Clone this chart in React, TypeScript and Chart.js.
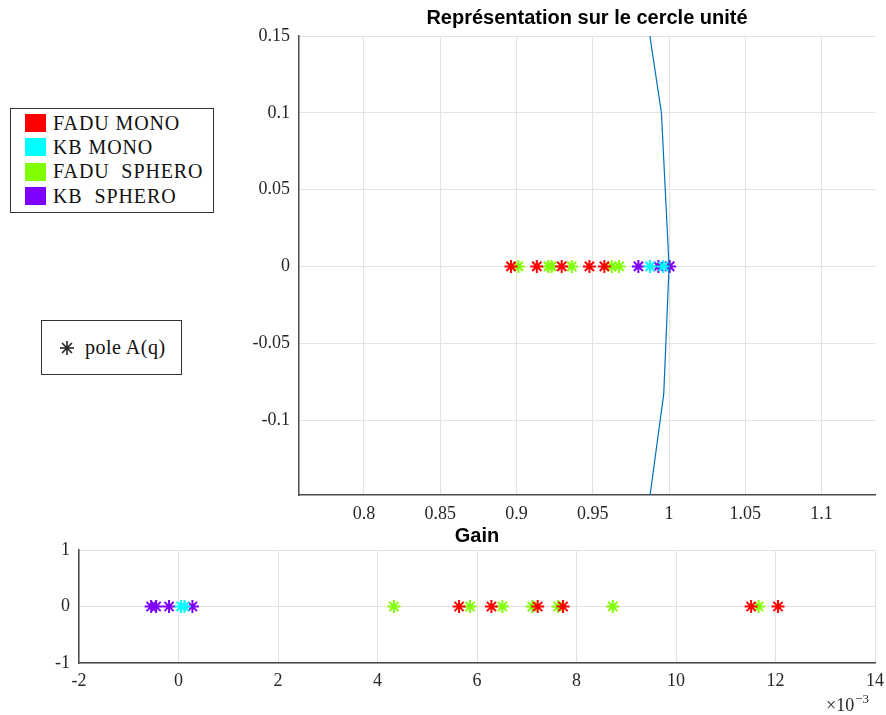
import React, { useEffect, useRef } from "react";
import { Chart, registerables } from "chart.js";
Chart.register(...registerables);

// ---------- data ----------
const seriesNames = ["FADU MONO", "KB MONO", "FADU  SPHERO", "KB  SPHERO"];
const seriesColors = ["#ff0000", "#00ffff", "#80ff00", "#8000ff"];

// poles on the real axis (unit circle view)
const faduMonoPoles = [0.8964, 0.9133, 0.9296, 0.9478, 0.9576];
const kbMonoPoles = [0.9875, 0.9962];
const faduSpheroPoles = [0.9012, 0.9209, 0.923, 0.9362, 0.9624, 0.9672];
const kbSpheroPoles = [0.9799, 0.993, 1.0004];

// unit circle polyline (visible part)
const circleX = [0.9801, 0.995, 1.0, 0.9965, 0.983];
const circleY = [0.1987, 0.0998, 0.0, -0.0831, -0.1822];

// gains (x 1e-3)
const faduMonoGain = [5.64, 6.29, 7.22, 7.73, 11.51, 12.05];
const kbMonoGain = [0.05, 0.12];
const faduSpheroGain = [4.33, 5.86, 6.51, 7.11, 7.63, 8.73, 11.66];
const kbSpheroGain = [-0.55, -0.45, -0.19, 0.28];

const topXTicks = [0.8, 0.85, 0.9, 0.95, 1, 1.05, 1.1];
const topYTicks = [-0.1, -0.05, 0, 0.05, 0.1, 0.15];
const gainXTicks = [-2, 0, 2, 4, 6, 8, 10, 12, 14];
const gainYTicks = [-1, 0, 1];

const topTitle = "Représentation sur le cercle unité";
const gainTitle = "Gain";
const poleLabel = "pole A(q)";

// ---------- styles ----------
const SERIF = "'Liberation Serif', 'DejaVu Serif', serif";
const SANS = "'Liberation Sans', Arial, sans-serif";
const GRID = "#e2e2e2";
const AXIS = "#4a4a4a";
const TICKTXT = "#262626";

const textPlugin = {
  id: "extraText",
  afterDraw(chart: any, _args: any, opts: any) {
    const ctx = chart.ctx;
    const area = chart.chartArea;
    ctx.save();
    ctx.fillStyle = "#000";
    ctx.font = "bold " + opts.titleSize + "px " + SANS;
    ctx.textAlign = "center";
    ctx.textBaseline = "alphabetic";
    ctx.fillText(opts.title, (area.left + area.right) / 2, area.top - opts.titleGap);
    if (opts.exp) {
      ctx.fillStyle = TICKTXT;
      ctx.textAlign = "left";
      ctx.font = "18px " + SERIF;
      const x = area.right - 49;
      const y = chart.height - 4;
      ctx.fillText("×10", x, y);
      const w = ctx.measureText("×10").width;
      ctx.font = "13px " + SERIF;
      ctx.fillText("−3", x + w + 1, y - 8);
    }
    ctx.restore();
  },
};

function fmt(v: number) {
  return String(+v.toFixed(3));
}

function axis(min: number, max: number, ticks: number[], fitSize: number, isX: boolean, pad: number) {
  return {
    type: "linear",
    min,
    max,
    afterBuildTicks: (s: any) => {
      s.ticks = ticks.map((v) => ({ value: v }));
    },
    afterFit: (s: any) => {
      if (isX) {
        s.height = fitSize;
        s.paddingLeft = 0;
        s.paddingRight = 0;
      } else {
        s.width = fitSize;
        s.paddingTop = 0;
        s.paddingBottom = 0;
      }
    },
    grid: { color: GRID, lineWidth: 1, drawTicks: false },
    border: { color: AXIS, width: 1.5 },
    ticks: {
      padding: pad,
      color: TICKTXT,
      font: { family: SERIF, size: 18 },
      callback: (v: any) => fmt(Number(v)),
      maxRotation: 0,
      autoSkip: false,
    },
  };
}

function scatterSet(xs: number[], color: string) {
  return {
    type: "scatter",
    data: xs.map((x) => ({ x, y: 0 })),
    pointStyle: "star",
    pointRadius: 6.5,
    pointBorderWidth: 2,
    borderColor: color,
    backgroundColor: color,
    showLine: false,
  };
}

function baseOptions(padding: any, scales: any, textOpts: any) {
  return {
    animation: false,
    responsive: false,
    maintainAspectRatio: false,
    layout: { padding },
    plugins: {
      legend: { display: false },
      tooltip: { enabled: false },
      title: { display: false },
      extraText: textOpts,
    },
    scales,
  };
}

function TopChart() {
  const ref = useRef<HTMLCanvasElement>(null);
  useEffect(() => {
    const chart = new Chart(ref.current as HTMLCanvasElement, {
      type: "scatter",
      data: {
        datasets: [
          {
            type: "line",
            data: circleX.map((x, i) => ({ x, y: circleY[i] })),
            borderColor: "#0072bd",
            borderWidth: 1.2,
            pointRadius: 0,
            fill: false,
            tension: 0,
          },
          scatterSet(faduMonoPoles, seriesColors[0]),
          scatterSet(kbMonoPoles, seriesColors[1]),
          scatterSet(faduSpheroPoles, seriesColors[2]),
          scatterSet(kbSpheroPoles, seriesColors[3]),
        ],
      },
      options: baseOptions(
        { left: 0, right: 11, top: 36, bottom: 0 },
        {
          x: axis(0.7574, 1.135, topXTicks, 35, true, 8),
          y: axis(-0.1488, 0.15, topYTicks, 299, false, 9),
        },
        { title: topTitle, titleGap: 12, titleSize: 20, exp: false }
      ),
      plugins: [textPlugin],
    } as any);
    return () => chart.destroy();
  }, []);
  return (
    <canvas
      ref={ref}
      width={886}
      height={530}
      style={{ position: "absolute", left: 0, top: 0, width: 886, height: 530 }}
    />
  );
}

function GainChart() {
  const ref = useRef<HTMLCanvasElement>(null);
  useEffect(() => {
    const chart = new Chart(ref.current as HTMLCanvasElement, {
      type: "scatter",
      data: {
        datasets: [
          scatterSet(faduMonoGain, seriesColors[0]),
          scatterSet(kbMonoGain, seriesColors[1]),
          scatterSet(faduSpheroGain, seriesColors[2]),
          scatterSet(kbSpheroGain, seriesColors[3]),
        ],
      },
      options: baseOptions(
        { left: 0, right: 11, top: 30, bottom: 0 },
        {
          x: axis(-2, 14, gainXTicks, 52, true, 7),
          y: axis(-1, 1, gainYTicks, 79, false, 9),
        },
        { title: gainTitle, titleGap: 8, titleSize: 20, exp: true }
      ),
      plugins: [textPlugin],
    } as any);
    return () => chart.destroy();
  }, []);
  return (
    <canvas
      ref={ref}
      width={886}
      height={195}
      style={{ position: "absolute", left: 0, top: 520, width: 886, height: 195 }}
    />
  );
}

function SeriesLegend() {
  return (
    <div
      style={{
        position: "absolute",
        left: 10,
        top: 108,
        width: 202,
        height: 103,
        border: "1px solid #333",
        background: "#fff",
        fontFamily: SERIF,
        fontSize: 20,
        color: "#111",
      }}
    >
      {seriesNames.map((name, i) => (
        <div
          key={name}
          style={{
            position: "absolute",
            left: 14,
            top: 3 + i * 24.4,
            height: 22,
            display: "flex",
            alignItems: "center",
          }}
        >
          <span
            style={{
              display: "inline-block",
              width: 21,
              height: 18,
              background: seriesColors[i],
              marginRight: 7,
            }}
          />
          <span style={{ whiteSpace: "pre", letterSpacing: 0.9 }}>{name}</span>
        </div>
      ))}
    </div>
  );
}

function PoleLegend() {
  const spokes = [0, 45, 90, 135];
  return (
    <div
      style={{
        position: "absolute",
        left: 41,
        top: 320,
        width: 139,
        height: 53,
        border: "1px solid #333",
        background: "#fff",
        fontFamily: SERIF,
        fontSize: 20,
        color: "#111",
        display: "flex",
        alignItems: "center",
      }}
    >
      <svg width={16} height={16} viewBox="-8 -8 16 16" style={{ marginLeft: 17, marginRight: 10 }}>
        {spokes.map((a) => (
          <line
            key={a}
            x1={-7 * Math.cos((a * Math.PI) / 180)}
            y1={-7 * Math.sin((a * Math.PI) / 180)}
            x2={7 * Math.cos((a * Math.PI) / 180)}
            y2={7 * Math.sin((a * Math.PI) / 180)}
            stroke="#222"
            strokeWidth={1.6}
          />
        ))}
      </svg>
      <span style={{ whiteSpace: "pre", letterSpacing: 0.5 }}>{poleLabel}</span>
    </div>
  );
}

export default function App() {
  return (
    <div style={{ position: "absolute", left: 0, top: 0, width: 886, height: 715, background: "#fff" }}>
      <TopChart />
      <GainChart />
      <SeriesLegend />
      <PoleLegend />
    </div>
  );
}
